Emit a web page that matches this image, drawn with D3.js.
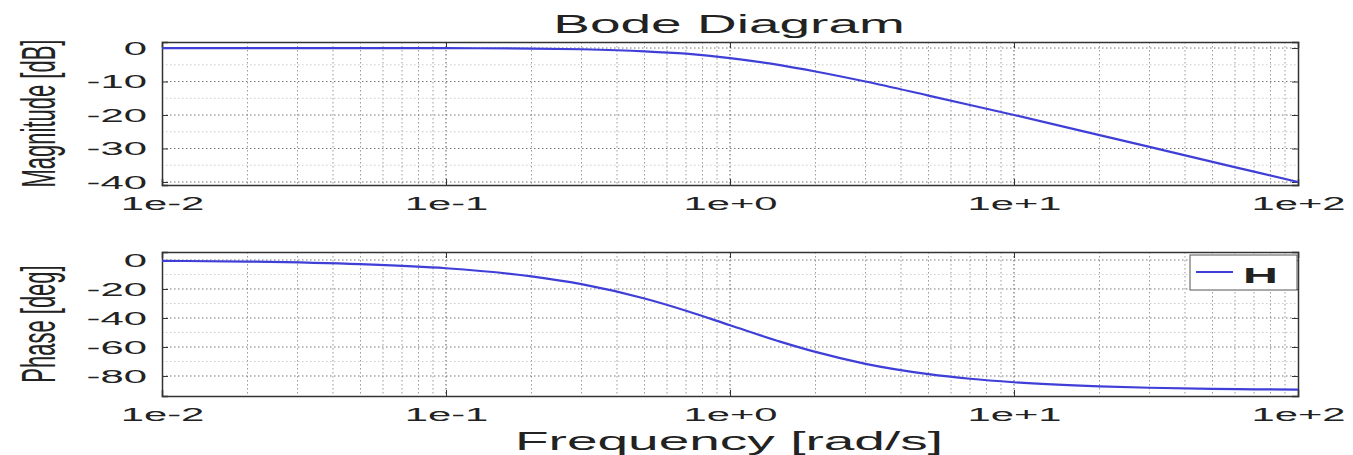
<!DOCTYPE html>
<html>
<head>
<meta charset="utf-8">
<script src="https://cdn.jsdelivr.net/npm/d3@7"></script>
<style>
    body { margin: 0; background: #fff; }
    text { font-family: "Liberation Sans", Arial, sans-serif; fill: #222; }
</style>
</head>
<body>
<div id="bode"></div>
<script>
// frequency samples [rad/s]
const freq = [0.01, 0.02, 0.05, 0.1, 0.2, 0.3, 0.5, 0.7, 1, 1.5, 2, 3, 5, 7, 10, 20, 30, 50, 70, 100];
// magnitude [dB]
const magnitude = [0, 0, -0.01, -0.04, -0.17, -0.37, -0.97, -1.7, -3.0, -5.1, -7.0, -10.0, -14.2, -17.0, -20.0, -26.0, -29.5, -34.0, -36.9, -40.0];
// phase [deg]
const phase = [-0.6, -1.1, -2.9, -5.7, -11.3, -16.7, -26.6, -35.0, -45.0, -56.3, -63.4, -71.6, -78.7, -81.9, -84.3, -87.1, -88.1, -88.9, -89.2, -89.4];

const xTicks = [0.01, 0.1, 1, 10, 100];
const xTickLabels = ['1e-2', '1e-1', '1e+0', '1e+1', '1e+2'];
const magTicks = [0, -10, -20, -30, -40];
const phaseTicks = [0, -20, -40, -60, -80];

const width = 1353;
const height = 455;
const sx = 2.2; // the reference is stretched sideways

const svg = d3.select('#bode')
    .append('svg')
    .attr('width', width)
    .attr('height', height);

const x = d3.scaleLog()
    .domain([0.01, 100])
    .range([162, 1298]);

const yMag = d3.scaleLinear()
    .domain([-40.9, 1.8])
    .range([185, 42]);

const yPh = d3.scaleLinear()
    .domain([-93.8, 5.5])
    .range([396, 252]);

// minor x grid positions 2..9 of each decade
const minorX = [];
[0.01, 0.1, 1, 10].forEach(d => d3.range(2, 10).forEach(k => minorX.push(d * k)));

const label = (g, str, px, py, size, opts = {}) => {
    const t = g.append('text')
        .attr('transform', `translate(${px}, ${py}) scale(${sx}, 1)` + (opts.rotate ? ' rotate(-90)' : ''))
        .attr('text-anchor', opts.anchor || 'middle')
        .attr('font-size', size)
        .text(str);
    if (opts.weight) t.attr('font-weight', opts.weight);
    return t;
};

const panel = (y, ticks, minorStep, values, yTitle) => {
    const [x0, x1] = x.range();
    const [yb, yt] = y.range();
    const g = svg.append('g');

    // grid
    const grid = g.append('g')
        .attr('stroke-dasharray', '1.5,2.5')
        .attr('fill', 'none');
    grid.selectAll('line.minx')
        .data(minorX)
        .enter()
        .append('line')
        .attr('x1', d => x(d)).attr('x2', d => x(d))
        .attr('y1', yt).attr('y2', yb)
        .attr('stroke', '#999');
    grid.selectAll('line.majx')
        .data(xTicks.slice(1, -1))
        .enter()
        .append('line')
        .attr('x1', d => x(d)).attr('x2', d => x(d))
        .attr('y1', yt).attr('y2', yb)
        .attr('stroke', '#555');
    const minorY = d3.range(ticks[ticks.length - 1] + minorStep, ticks[0], minorStep)
        .filter(v => !ticks.includes(v));
    grid.selectAll('line.miny')
        .data(minorY)
        .enter()
        .append('line')
        .attr('x1', x0).attr('x2', x1)
        .attr('y1', d => y(d)).attr('y2', d => y(d))
        .attr('stroke', '#ccc');
    grid.selectAll('line.majy')
        .data(ticks)
        .enter()
        .append('line')
        .attr('x1', x0).attr('x2', x1)
        .attr('y1', d => y(d)).attr('y2', d => y(d))
        .attr('stroke', '#777');

    // axes with inward ticks
    const left = g.append('g')
        .attr('transform', `translate(${x0}, 0)`)
        .call(d3.axisLeft(y).tickValues(ticks).tickSize(-6).tickFormat(d => String(d)));
    left.selectAll('text')
        .attr('x', null)
        .attr('transform', `translate(-15, 0) scale(${sx}, 1)`)
        .attr('font-size', 19)
        .attr('font-family', null);
    g.append('g')
        .attr('transform', `translate(${x1}, 0)`)
        .call(d3.axisRight(y).tickValues(ticks).tickSize(-6).tickFormat(''));
    const bottom = g.append('g')
        .attr('transform', `translate(0, ${yb})`)
        .call(d3.axisBottom(x).tickValues(xTicks).tickSize(-6).tickFormat((d, i) => xTickLabels[i]));
    bottom.selectAll('text')
        .attr('y', null).attr('dy', null)
        .attr('transform', `translate(0, 25) scale(${sx}, 1)`)
        .attr('font-size', 19)
        .attr('font-family', null);
    g.append('g')
        .attr('transform', `translate(0, ${yt})`)
        .call(d3.axisTop(x).tickValues(xTicks).tickSize(-6).tickFormat(''));
    g.selectAll('.domain').attr('stroke', '#333').attr('stroke-width', 1.5);
    g.selectAll('.tick line').attr('stroke', '#333');

    // response line
    const line = d3.line()
        .x((d, i) => x(freq[i]))
        .y(d => y(d))
        .curve(d3.curveMonotoneX);
    g.append('path')
        .datum(values)
        .attr('d', line)
        .attr('fill', 'none')
        .attr('stroke', '#3f3fd8')
        .attr('stroke-width', 2.2);

    label(g, yTitle, 55, (yt + yb) / 2, 22, { rotate: true });
    return g;
};

panel(yMag, magTicks, 5, magnitude, 'Magnitude [dB]');
const ph = panel(yPh, phaseTicks, 10, phase, 'Phase [deg]');

// legend
const legend = ph.append('g');
legend.append('rect')
    .attr('x', 1190).attr('y', 255)
    .attr('width', 107).attr('height', 35)
    .attr('fill', '#fff')
    .attr('stroke', '#555');
legend.append('line')
    .attr('x1', 1196).attr('x2', 1233)
    .attr('y1', 272).attr('y2', 272)
    .attr('stroke', '#3f3fd8')
    .attr('stroke-width', 2);
label(legend, 'H', 1243, 283, 22, { anchor: 'start', weight: 'bold' });

label(svg, 'Bode Diagram', 729, 33, 25);
label(svg, 'Frequency [rad/s]', 729, 450, 25);
</script>
</body>
</html>
